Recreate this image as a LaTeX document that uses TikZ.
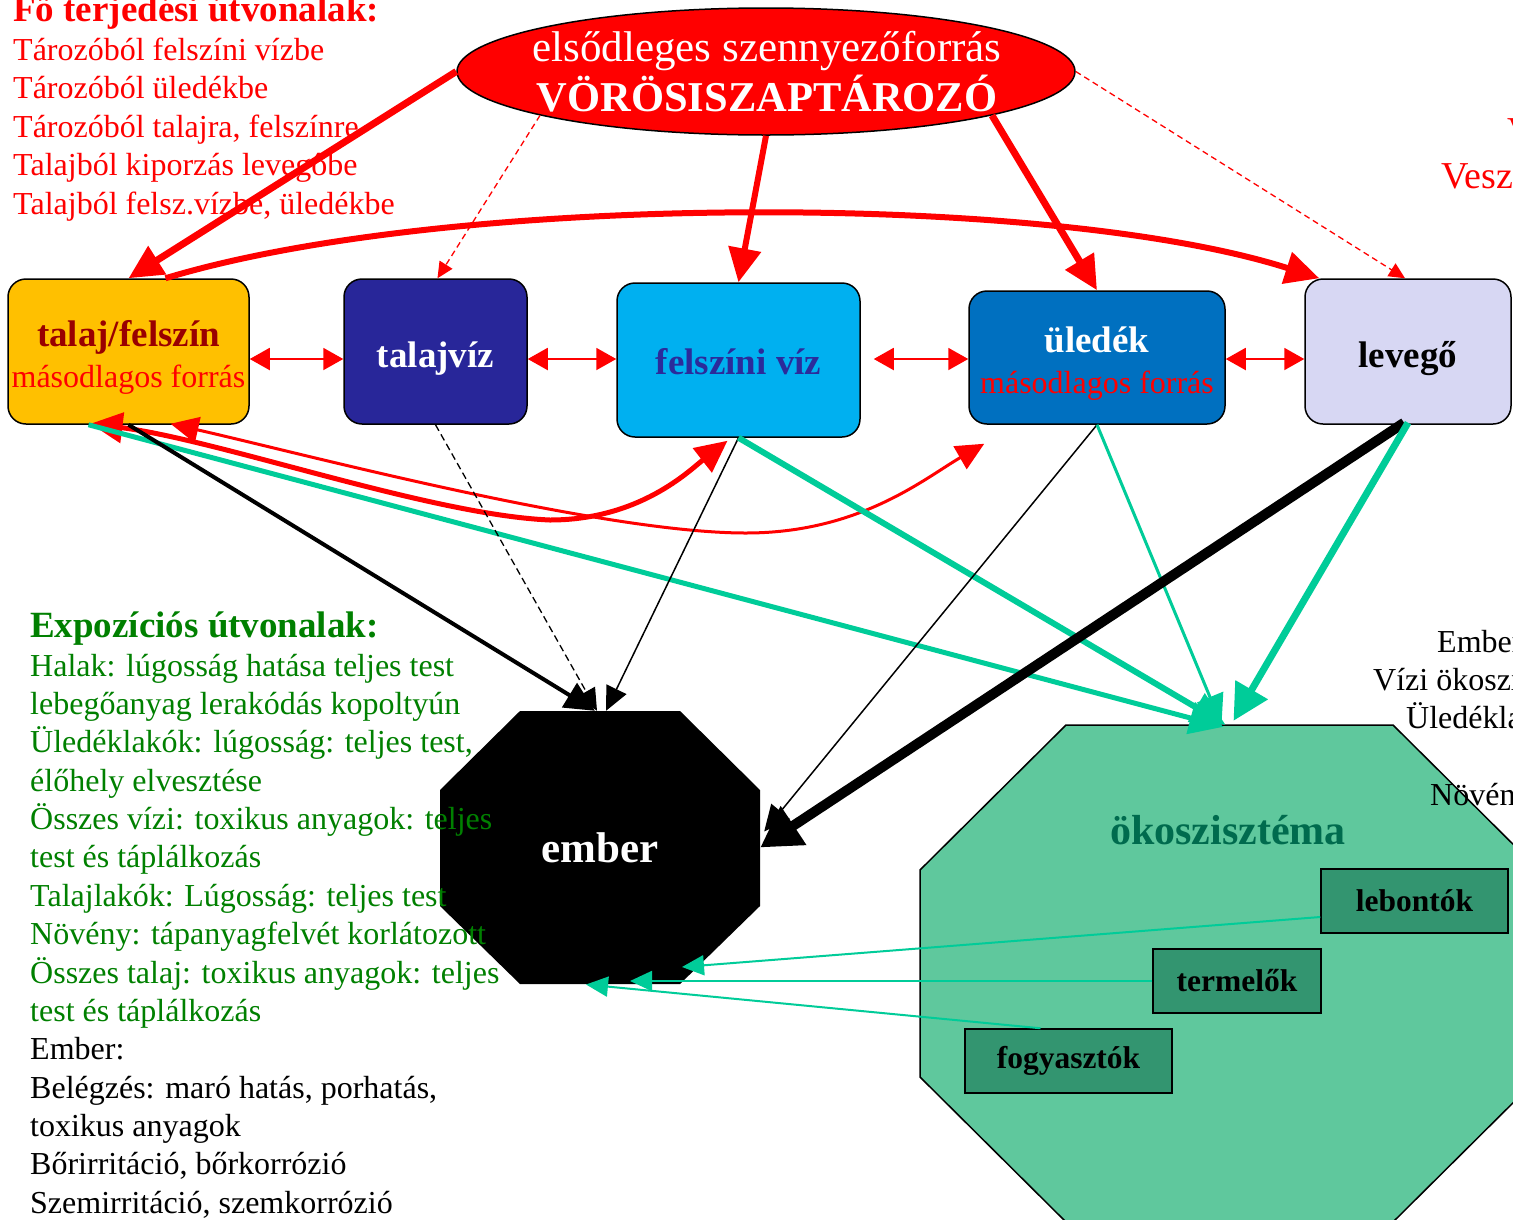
\documentclass[tikz,border=0pt]{standalone}
\usepackage{fontspec}
\setmainfont{Liberation Serif}
\usetikzlibrary{arrows.meta,shapes.geometric,calc}
\definecolor{talajfill}{HTML}{FFC000}
\definecolor{talajtext}{HTML}{990000}
\definecolor{tvizfill}{HTML}{282699}
\definecolor{fvizfill}{HTML}{00B0F0}
\definecolor{fviztext}{HTML}{2B2B9B}
\definecolor{uledfill}{HTML}{0070C0}
\definecolor{levfill}{HTML}{D7D7F3}
\definecolor{ecofill}{HTML}{5FC89D}
\definecolor{ecobox}{HTML}{339570}
\definecolor{ecotext}{HTML}{006B4E}
\definecolor{teal}{HTML}{00CC99}
\definecolor{txtgreen}{HTML}{008000}
\tikzset{
  listline/.style={anchor=base west, inner sep=0pt, font=\fontsize{32}{32}\selectfont},
  boxnode/.style={draw=black, line width=1.5pt, rounded corners=18pt, inner sep=0pt, align=center,
                  font=\fontsize{32}{41}\selectfont},
  ecosub/.style={draw=black, line width=1.5pt, fill=ecobox, inner sep=0pt, minimum height=64pt,
                 font=\fontsize{31.5}{31.5}\selectfont\bfseries},
  redthick/.style={draw=red, line width=#1, -{Triangle[length=34pt,width=32pt]}},
  reddash/.style={draw=red, line width=1.3pt, dash pattern=on 6pt off 4pt, -{Triangle[length=16pt,width=15pt]}},
  reddouble/.style={draw=red, line width=2pt, {Triangle[length=20pt,width=22pt]}-{Triangle[length=20pt,width=22pt]}},
  blk/.style={draw=black, line width=#1},
  tealline/.style={draw=teal, line width=#1},
}
\begin{document}
\begin{tikzpicture}[x=1pt,y=-1pt]
\path[use as bounding box] (0,0) rectangle (1513,1219);
\clip (0,0) rectangle (1513,1219);
\fill[white] (0,0) rectangle (1513,1219);

% ---------- texts top-left ----------
\node[anchor=base west, inner sep=0pt, text=red, font=\fontsize{37}{37}\selectfont\bfseries] (h1) at (13,21) {Fő terjedési útvonalak:};
\node[listline, text=red] (r1) at (13,60) {Tározóból felszíni vízbe};
\node[listline, text=red] (r2) at (13,98.5) {Tározóból üledékbe};
\node[listline, text=red] (r3) at (13,137) {Tározóból talajra, felszínre};
\node[listline, text=red] (r4) at (13,175.5) {Talajból kiporzás levegőbe};
\node[listline, text=red] (r5) at (13,214) {Talajból felsz.vízbe, üledékbe};

% top right cut texts
\node[anchor=base west, inner sep=0pt, text=red, font=\fontsize{38}{38}\selectfont] (tr1) at (1507,143) {Veszély};
\node[anchor=base west, inner sep=0pt, text=red, font=\fontsize{38}{38}\selectfont] (tr2) at (1441,188) {Veszélyes};

% right cut texts
\node[listline] (rc1) at (1437,652) {Ember:};
\node[listline] (rc2) at (1373,690) {Vízi ökoszisztéma:};
\node[listline] (rc3) at (1406,728) {Üledéklakók:};

% ---------- ecosystem octagon ----------
\fill[ecofill, draw=black, line width=1.5pt] (1066,725) -- (1393,725) -- (1539,870) -- (1539,1077) -- (1393,1222) -- (1066,1222) -- (920,1077) -- (920,870) -- cycle;
\node[inner sep=0pt, minimum width=619pt, minimum height=497pt] (eco) at (1229.5,973.5) {};
\node[text=ecotext, font=\fontsize{42}{42}\selectfont\bfseries] (ecolabel) at (1228,830) {ökoszisztéma};
\node[listline] (rc4) at (1430,805) {Növény:};

\node[ecosub, minimum width=187pt] (lebontok) at (1414.5,901) {lebontók};
\node[ecosub, minimum width=168pt] (termelok) at (1237,981) {termelők};
\node[ecosub, minimum width=207pt] (fogyasztok) at (1068.5,1061) {fogyasztók};

% ---------- ember octagon ----------
\fill[black] (520,711) -- (680,711) -- (760,790) -- (760,906) -- (680,984) -- (520,984) -- (440,906) -- (440,790) -- cycle;
\node[inner sep=0pt, minimum width=320pt, minimum height=273pt, text=white, font=\fontsize{43}{43}\selectfont\bfseries] (ember) at (600,847.5) {ember};

% ---------- green exposure text ----------
\node[anchor=base west, inner sep=0pt, text=txtgreen, font=\fontsize{37}{37}\selectfont\bfseries] (h2) at (30,637) {Expozíciós útvonalak:};
\node[listline, text=txtgreen] (g1) at (30,676) {Halak: lúgosság hatása teljes test};
\node[listline, text=txtgreen] (g2) at (30,714) {lebegőanyag lerakódás kopoltyún};
\node[listline, text=txtgreen] (g3) at (30,752.5) {Üledéklakók: lúgosság: teljes test,};
\node[listline, text=txtgreen] (g4) at (30,791) {élőhely elvesztése};
\node[listline, text=txtgreen] (g5) at (30,829) {Összes vízi: toxikus anyagok: teljes};
\node[listline, text=txtgreen] (g6) at (30,867.5) {test és táplálkozás};
\node[listline, text=txtgreen] (g7) at (30,906) {Talajlakók: Lúgosság: teljes test};
\node[listline, text=txtgreen] (g8) at (30,944.5) {Növény: tápanyagfelvét korlátozott};
\node[listline, text=txtgreen] (g9) at (30,983) {Összes talaj: toxikus anyagok: teljes};
\node[listline, text=txtgreen] (g10) at (30,1021) {test és táplálkozás};
\node[listline] (b1) at (30,1059.5) {Ember:};
\node[listline] (b2) at (30,1098) {Belégzés: maró hatás, porhatás,};
\node[listline] (b3) at (30,1136) {toxikus anyagok};
\node[listline] (b4) at (30,1174.5) {Bőrirritáció, bőrkorrózió};
\node[listline] (b5) at (30,1213) {Szemirritáció, szemkorrózió};

% ---------- top ellipse ----------
\node[ellipse, draw=black, line width=1.5pt, fill=red, inner sep=0pt, minimum width=618pt, minimum height=127pt] (ell) at (766,71.5) {};
\node[text=white, align=center, inner sep=0pt, font=\fontsize{43}{50}\selectfont] (elltext) at (767,72) {elsődleges szennyezőforrás\\{\bfseries\fontsize{42.5}{50}\selectfont VÖRÖSISZAPTÁROZÓ}};

% ---------- medium boxes ----------
\node[boxnode, fill=talajfill, minimum width=241pt, minimum height=145pt] (talaj) at (128.5,351.5)
  {\rule{0pt}{38pt}\textcolor{talajtext}{\bfseries\fontsize{37}{41}\selectfont talaj/felszín}\\\textcolor{red}{másodlagos forrás}};
\node[boxnode, fill=tvizfill, minimum width=183pt, minimum height=145pt, text=white] (talajviz) at (435.5,351.5)
  {\rule{0pt}{40pt}\bfseries\fontsize{37}{41}\selectfont talajvíz};
\node[boxnode, fill=fvizfill, minimum width=243pt, minimum height=154pt, text=fviztext] (felszini) at (738.5,360)
  {\rule{0pt}{30pt}\bfseries\fontsize{37}{41}\selectfont felszíni víz};
\node[boxnode, fill=uledfill, minimum width=256pt, minimum height=133pt] (uledek) at (1097,357.5)
  {\rule{0pt}{38pt}\textcolor{white}{\bfseries\fontsize{37}{41}\selectfont üledék}\\\textcolor{red}{másodlagos forrás}};
\node[boxnode, fill=levfill, minimum width=206pt, minimum height=145pt] (levego) at (1408,351.5)
  {\rule{0pt}{40pt}\bfseries\fontsize{37}{41}\selectfont levegő};

% ---------- red connectors from source ----------
\draw[redthick=7pt] (ell.west) -- (talaj.north);
\draw[redthick=6pt] (ell.south) -- (felszini.north);
\draw[redthick=7pt] (ell.-11) -- (uledek.north);
\draw[reddash] (ell.191) -- ([xshift=2pt]talajviz.north);
\draw[reddash] (ell.east) -- ([xshift=-3pt]levego.north);
\draw[redthick=6pt] ([xshift=37pt]talaj.north) .. controls (450,192) and (1050,192) .. ([xshift=15pt]levego.north west);

% double arrows
\draw[reddouble] ([yshift=-7.5pt]talaj.east) -- ([yshift=-7.5pt]talajviz.west);
\draw[reddouble] ([yshift=-7.5pt]talajviz.east) -- ([yshift=1pt]felszini.west);
\draw[reddouble] ([xshift=13pt,yshift=1pt]felszini.east) -- ([yshift=-1.5pt]uledek.west);
\draw[reddouble] ([yshift=-1.5pt]uledek.east) -- ([yshift=-7.5pt]levego.west);

% lower red curves (double headed)
\draw[draw=red, line width=5pt, {Triangle[length=32pt,width=30pt]}-{Triangle[length=32pt,width=30pt]}]
  ([xshift=-38pt,yshift=1pt]talaj.south) .. controls (220,440) and (430,515) .. (550,520)
  .. controls (640,520) and (690,470) .. ([xshift=-11pt,yshift=-3pt]felszini.south);
\draw[draw=red, line width=3pt, {Triangle[length=28pt,width=26pt]}-{Triangle[length=28pt,width=26pt]}]
  ([xshift=42pt,yshift=1pt]talaj.south) .. controls (300,453) and (600,533) .. (746,533)
  .. controls (860,533) and (925,478) .. ([xshift=16pt,yshift=-19pt]uledek.south west);

% ---------- exposure connectors ----------
\draw[tealline=5pt, -{Triangle[length=34pt,width=32pt]}] ([xshift=-40pt]talaj.south) -- ([xshift=-6pt,yshift=-2pt]eco.north);
\draw[blk=4pt, -{Triangle[length=30pt,width=28pt]}] (talaj.south) -- ([xshift=-5pt]ember.north);
\draw[blk=1.3pt, dash pattern=on 7pt off 4pt, -{Triangle[length=22pt,width=20pt]}] (talajviz.south) -- ([xshift=-3pt]ember.north);
\draw[blk=1.5pt, -{Triangle[length=24pt,width=22pt]}] (felszini.south) -- ([xshift=6pt]ember.north);
\draw[tealline=6pt, -{Triangle[length=34pt,width=32pt]}] (felszini.south) -- ([xshift=-4pt]eco.north);
\draw[blk=1.5pt, -{Triangle[length=26pt,width=24pt]}] (uledek.south) -- ($(ember.east)+(4,-16)$);
\draw[tealline=3pt, -{Triangle[length=30pt,width=28pt]}] (uledek.south) -- ([xshift=-8pt]eco.north);
\draw[blk=10pt, -{Triangle[length=40pt,width=44pt]}] ([xshift=-4pt,yshift=2pt]levego.south) -- (ember.east);
\draw[tealline=7pt, -{Triangle[length=36pt,width=36pt]}] ([yshift=2pt]levego.south) -- ($(eco.north)+(4,-4)$);

% eco -> ember thin lines
\draw[tealline=2pt, -{Triangle[length=22pt,width=20pt]}] ([yshift=-16pt]lebontok.west) -- ($(ember.center)+(82,119.5)$);
\draw[tealline=2pt, -{Triangle[length=22pt,width=20pt]}] (termelok.west) -- ($(ember.center)+(30,133.5)$);
\draw[tealline=2pt, -{Triangle[length=22pt,width=20pt]}] ([xshift=-28pt]fogyasztok.north) -- ($(ember.center)+(-14,137)$);
\end{tikzpicture}
\end{document}
